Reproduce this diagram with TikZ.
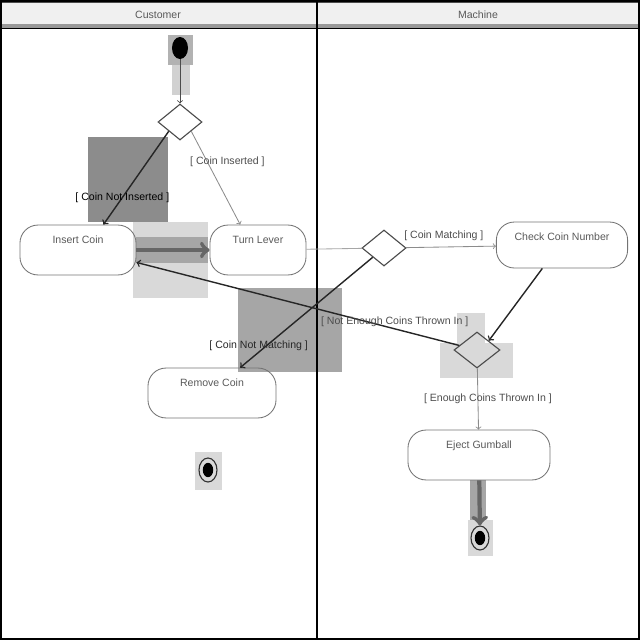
\documentclass[tikz,border=0pt]{standalone}
\usepackage{fontspec}
\setmainfont{Liberation Sans}
\usetikzlibrary{shapes.geometric}

\begin{document}
\begin{tikzpicture}[x=0.025cm,y=-0.025cm,
  font=\fontsize{7.5}{9}\selectfont,
  act/.style={draw=black!55,line width=0.6pt,rounded corners=0.45cm,text=black!65,
    text height=9pt,text depth=#1,inner ysep=4pt},
  act/.default=18.5pt,
  dec/.style={diamond,draw=black!70,line width=0.8pt,minimum width=1.1cm,minimum height=0.9cm,inner sep=0pt},
  fin/.style={ellipse,draw=black!80,line width=0.8pt,minimum width=0.45cm,minimum height=0.6cm,inner sep=0pt,
    path picture={\fill[black] (path picture bounding box.center) ellipse (0.13cm and 0.18cm);}},
  lbl/.style={text=black!70,inner sep=1pt},
  dk/.style={->,draw=black!85,line width=1pt},
  lt/.style={->,draw=black!45,line width=0.6pt},
  band/.style={->,draw=black!60,line width=3pt}]
\useasboundingbox (0,0) rectangle (640,640);

\fill[black!45] (88,137) rectangle (168,222);
\fill[black!15] (133,222) rectangle (208,298);
\fill[black!35] (136,237) rectangle (208,263);
\fill[black!35] (238,288) rectangle (342,372);
\fill[black!15] (457,313) rectangle (485,343);
\fill[black!15] (440,343) rectangle (513,378);
\fill[black!30] (168,35) rectangle (193,65);
\fill[black!18] (172,65) rectangle (190,95);
\fill[black!15] (195,452) rectangle (222,490);
\fill[black!35] (470,480) rectangle (486,520);
\fill[black!15] (468,520) rectangle (493,556);

\fill[black!6] (0,0) rectangle (640,26);
\fill[black!70] (0,0) rectangle (640,3);
\fill[black!40] (0,24) rectangle (640,28);
\draw[line width=0.8pt] (0,28.5) -- (640,28.5);
\node[text=black!65] (cust) at (158,15) {Customer};
\node[text=black!65] (mach) at (478,15) {Machine};
\draw[line width=1.2pt] (317,0) -- (317,640);
\draw[line width=1.5pt] (1,1) rectangle (639,639);

\node[ellipse,fill=black,minimum width=0.4cm,minimum height=0.55cm,inner sep=0pt] (st) at (180,48) {};
\node[dec] (d1) at (180,122) {};
\node[act,minimum width=2.9cm] (ins) at (78,250) {Insert Coin};
\node[act,minimum width=2.4cm] (turn) at (258,250) {Turn Lever};
\node[dec] (d2) at (384,248) {};
\node[act=15.7pt,minimum width=3.28cm] (chk) at (562,245) {Check Coin Number};
\node[dec,minimum width=1.15cm] (d3) at (477,350) {};
\node[act,minimum width=3.2cm] (rem) at (212,393) {Remove Coin};
\node[fin] (fa) at (208,470) {};
\node[act,minimum width=3.55cm] (ej) at (479,455) {Eject Gumball};
\node[fin] (fb) at (480,538) {};

\draw[lt,draw=black!70] (st) -- (d1);
\draw[dk] (d1.south west) -- node[lbl,pos=0.71,text=black] {[ Coin Not Inserted ]} (ins.45);
\draw[lt] (d1.south east) -- node[lbl,pos=0.33,xshift=0.5cm] {[ Coin Inserted ]} (turn.125);
\draw[band] (ins) -- (turn);
\draw[draw=black!35,line width=0.6pt] (turn) -- (d2);
\draw[lt] (d2) -- node[lbl,above=3pt,pos=0.42] {[ Coin Matching ]} (chk);
\draw[dk] (chk.230) -- (d3.north east);
\draw[dk] (d3) -- node[lbl,pos=0.2,yshift=5pt] {[ Not Enough Coins Thrown In ]} (ins.-12);
\draw[dk] (d2.south west) -- node[lbl,pos=0.8,xshift=-0.2cm,text=black!85] {[ Coin Not Matching ]} (rem.42);
\draw[lt] (d3) -- node[lbl,pos=0.5,xshift=0.25cm] {[ Enough Coins Thrown In ]} (ej);
\draw[band] (ej) -- (fb);
\end{tikzpicture}
\end{document}
